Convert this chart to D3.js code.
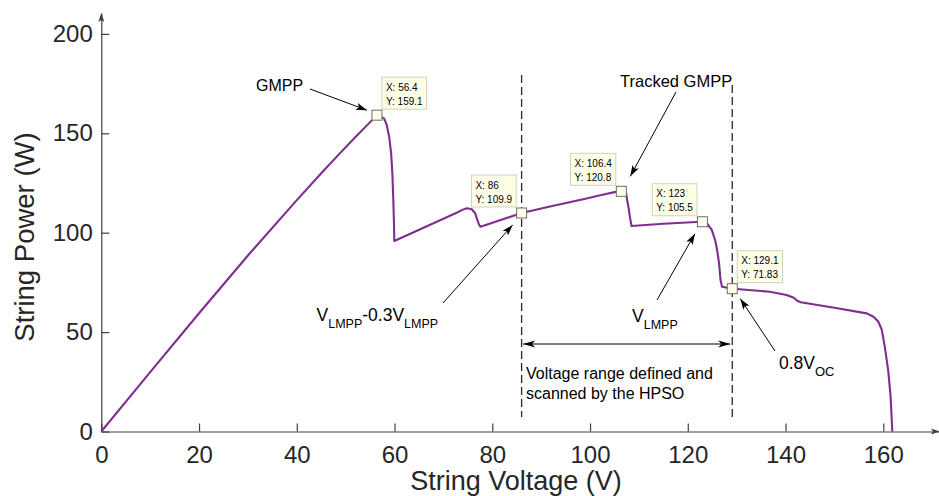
<!DOCTYPE html>
<html>
<head>
<meta charset="utf-8">
<script src="https://cdn.jsdelivr.net/npm/d3@7"></script>
<style>
  html, body { margin: 0; padding: 0; background: #ffffff; }
  svg { display: block; font-family: "Liberation Sans", Arial, Helvetica, sans-serif; }
</style>
</head>
<body>
<svg id="chart" width="939" height="496"></svg>
<script>
// P-V characteristic of a partially shaded PV string
const voltage = [0, 10, 20, 30, 40, 45, 48.8, 52, 54, 56.4,
  57.85, 58.4, 58.9, 59.3, 59.55, 59.75, 59.9, 59.95,
  67.4, 72.7, 74.0, 74.8, 75.8, 76.5, 76.9, 77.3, 77.6,
  86, 91.8, 98.6, 103, 105, 106.4,
  107.4, 107.6, 107.9, 108.2, 108.5, 115, 121.8, 123,
  124.0, 124.9, 125.6, 126.0, 126.4, 126.7, 127.0, 129.1,
  130.0, 136.8, 140.2, 141.7, 142.4, 143.1, 150, 156.6,
  158.0, 159.0, 159.7, 160.3, 161.0, 161.5, 161.85];
const power = [0, 29.9, 59.5, 88.5, 116.4, 129.9, 139.9, 148.1, 153.1, 159.1,
  157.5, 154.2, 148.3, 139.9, 129.9, 116.4, 103, 95.8,
  104.1, 110.0, 111.6, 112.3, 111.8, 109.8, 106.7, 103.9, 103,
  109.9, 113.2, 116.8, 119.3, 120.4, 120.8,
  119.6, 116.4, 112.3, 107.2, 103.4, 104.5, 105.4, 105.5,
  104.4, 101.4, 96.3, 91.3, 84.6, 76.2, 72.8, 71.83,
  71.7, 70.3, 68.7, 67.3, 65.8, 65, 62.2, 59.4,
  57.7, 55.2, 51.1, 42.7, 30.9, 17.5, 0];

const xTicks = [0, 20, 40, 60, 80, 100, 120, 140, 160];
const yTicks = [0, 50, 100, 150, 200];

// data tips
const tipV = [56.4, 86, 106.4, 123, 129.1];
const tipP = [159.1, 109.9, 120.8, 105.5, 71.83];
const tipSide = ["right", "left", "left", "left", "right"];

// bounds of the scanned voltage window
const rangeBounds = [86, 129.1];

const svg = d3.select("#chart");
const x = d3.scaleLinear().domain([0, 171.4]).range([101.3, 939]);
const y = d3.scaleLinear().domain([0, 210.5]).range([431.5, 13]);

const axisColor = "#404040";
const labelColor = "#262626";

// filled, notched arrowhead at (x2,y2) pointing away from (x1,y1)
function arrowHead(g, x1, y1, x2, y2, len, half, notch, color) {
  const dx = x2 - x1, dy = y2 - y1, d = Math.hypot(dx, dy);
  const ux = dx / d, uy = dy / d, px = -uy, py = ux;
  const bx = x2 - ux * len, by = y2 - uy * len;
  const nx = x2 - ux * (len - notch), ny = y2 - uy * (len - notch);
  g.append("path")
    .attr("d", `M${x2},${y2}L${bx + px * half},${by + py * half}L${nx},${ny}L${bx - px * half},${by - py * half}Z`)
    .attr("fill", color).attr("stroke", "none");
}
function arrow(g, x1, y1, x2, y2, opts = {}) {
  const len = opts.len || 11, half = opts.half || 3.6, notch = opts.notch || 2.5;
  const color = opts.color || "#000";
  g.append("line").attr("x1", x1).attr("y1", y1).attr("x2", x2).attr("y2", y2)
    .attr("stroke", color).attr("stroke-width", opts.width || 1);
  arrowHead(g, x1, y1, x2, y2, len, half, notch, color);
  if (opts.both) arrowHead(g, x2, y2, x1, y1, len, half, notch, color);
}

// axes
const xAxis = d3.axisBottom(x).tickValues(xTicks).tickSize(-8).tickSizeOuter(0).tickPadding(14.8);
const yAxis = d3.axisLeft(y).tickValues(yTicks).tickSize(-8).tickSizeOuter(0).tickPadding(8.5);

const gx = svg.append("g").attr("transform", `translate(0,${y(0)})`).call(xAxis);
const gy = svg.append("g").attr("transform", `translate(${x(0)},0)`).call(yAxis);
[gx, gy].forEach(g => {
  g.select(".domain").attr("stroke", axisColor).attr("stroke-width", 1.2);
  g.selectAll(".tick line").attr("stroke", axisColor).attr("stroke-width", 1.2);
  g.selectAll(".tick text").attr("fill", labelColor).attr("font-size", 24)
    .attr("font-family", "'Liberation Sans', Arial, Helvetica, sans-serif");
});
const axisArrows = svg.append("g");
arrowHead(axisArrows, x(0), y(100), x(0), y.range()[1], 9, 3, 2, axisColor);
arrowHead(axisArrows, x(100), y(0), x.range()[1] + 1, y(0), 9, 3, 2, axisColor);

// axis titles
svg.append("text").attr("x", 516).attr("y", 490).attr("text-anchor", "middle")
  .attr("font-size", 27).attr("fill", labelColor).text("String Voltage (V)");
svg.append("text").attr("transform", `translate(34,237) rotate(-90)`).attr("text-anchor", "middle")
  .attr("font-size", 27.5).attr("fill", labelColor).text("String Power (W)");

// dashed boundaries of the scanned range
const dashTop = [179.3, 174.3];
svg.append("g").selectAll("line").data(rangeBounds).join("line")
  .attr("x1", d => x(d)).attr("x2", d => x(d))
  .attr("y1", (d, i) => y(dashTop[i])).attr("y2", y(7.3))
  .attr("stroke", "#2a2a2a").attr("stroke-width", 1.3).attr("stroke-dasharray", "8,4");

// P-V curve
const idx = d3.range(voltage.length);
svg.append("path")
  .attr("d", d3.line().x(i => x(voltage[i])).y(i => y(power[i]))(idx))
  .attr("fill", "none").attr("stroke", "#7e2f8e").attr("stroke-width", 2.1)
  .attr("stroke-linejoin", "round");

// data tips: marker squares and value boxes
const tips = svg.append("g");
tipV.forEach((v, i) => {
  const mx = x(v), my = y(tipP[i]);
  const g = tips.append("g");
  const box = g.append("rect");
  const t1 = g.append("text").attr("font-size", 10).attr("fill", "#000").text(`X: ${v}`);
  const t2 = g.append("text").attr("font-size", 10).attr("fill", "#000").text(`Y: ${tipP[i]}`);
  const w = Math.max(t1.node().getComputedTextLength(), t2.node().getComputedTextLength()) + 8;
  const h = 32;
  const left = tipSide[i] === "right" ? mx + 5 : mx - 5.5 - w;
  const top = my - 38;
  box.attr("x", left).attr("y", top).attr("width", w).attr("height", h)
    .attr("fill", "#ffffe8").attr("stroke", "#cfcfc0").attr("stroke-width", 1);
  t1.attr("x", left + 4).attr("y", top + 13.5);
  t2.attr("x", left + 4).attr("y", top + 27.5);
  g.append("rect").attr("x", mx - 5).attr("y", my - 5).attr("width", 10).attr("height", 10)
    .attr("fill", "#fffff2").attr("stroke", "#6e6e58").attr("stroke-width", 1);
});

// annotations
const ann = svg.append("g").attr("fill", "#000");
const tipPx = tipV.map((v, i) => [x(v), y(tipP[i])]);

ann.append("text").attr("x", 256).attr("y", 91).attr("font-size", 16).text("GMPP");
arrow(ann, 310, 89, tipPx[0][0] - 10, tipPx[0][1] - 5);

ann.append("text").attr("x", 620).attr("y", 87).attr("font-size", 16.5).text("Tracked GMPP");
arrow(ann, 676, 92, tipPx[2][0] + 9, tipPx[2][1] - 15);

const t3 = ann.append("text").attr("x", 316.5).attr("y", 320.5).attr("font-size", 17.5);
t3.append("tspan").text("V");
t3.append("tspan").attr("font-size", 12.5).attr("dy", 7.6).text("LMPP");
t3.append("tspan").attr("dy", -7.6).text("-0.3V");
t3.append("tspan").attr("font-size", 12.5).attr("dy", 7.6).text("LMPP");
arrow(ann, 443, 303, tipPx[1][0] - 9, tipPx[1][1] + 12);

const t4 = ann.append("text").attr("x", 632).attr("y", 321.5).attr("font-size", 17.5);
t4.append("tspan").text("V");
t4.append("tspan").attr("font-size", 12.5).attr("dy", 7.6).text("LMPP");
arrow(ann, 657, 300, tipPx[3][0] - 7.5, tipPx[3][1] + 12);

const t5 = ann.append("text").attr("x", 779).attr("y", 368.5).attr("font-size", 17.5);
t5.append("tspan").text("0.8V");
t5.append("tspan").attr("font-size", 13).attr("dy", 7).text("OC");
arrow(ann, 775, 351, tipPx[4][0] + 8, tipPx[4][1] + 10);

// scanned window span
arrow(ann, x(rangeBounds[0]) + 1.5, 344, x(rangeBounds[1]) - 2, 344, { len: 12, half: 3.5, notch: 3, both: true });
ann.append("text").attr("x", 526).attr("y", 378.5).attr("font-size", 16).text("Voltage range defined and");
ann.append("text").attr("x", 526).attr("y", 398.5).attr("font-size", 16).text("scanned by the HPSO");
</script>
</body>
</html>
